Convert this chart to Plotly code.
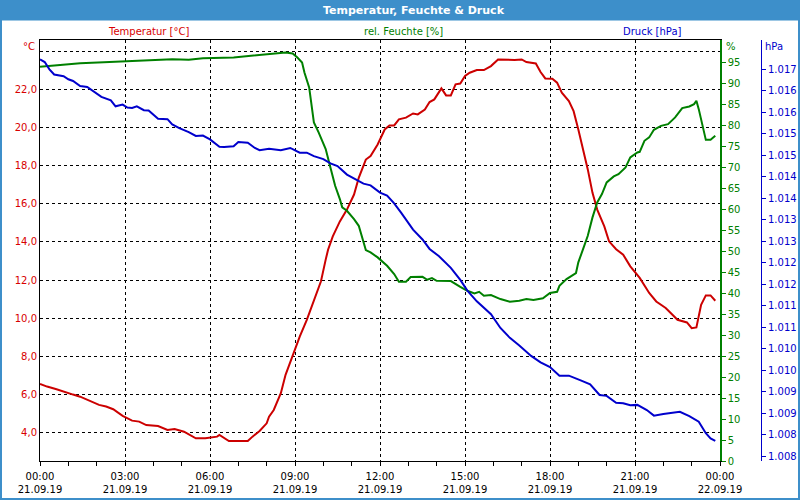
import pandas as pd
import plotly.graph_objects as go

# ---- data (minutes after 21.09.19 00:00, values) ----
temp_min = [0, 15, 35, 55, 70, 85, 105, 125, 140, 155, 175, 195, 210, 225, 250, 270, 285, 305,
            330, 350, 375, 380, 400, 440, 450, 465, 480, 485, 495, 510, 520, 535, 550, 565, 580,
            595, 605, 610, 620, 635, 650, 665, 675, 690, 700, 715, 730, 740, 750, 760, 775, 790,
            800, 815, 825, 835, 850, 860, 870, 880, 890, 900, 910, 925, 940, 955, 970, 990, 1005,
            1020, 1030, 1050, 1060, 1070, 1085, 1095, 1105, 1120, 1130, 1140, 1150, 1160, 1170,
            1180, 1195, 1205, 1220, 1235, 1250, 1270, 1290, 1305, 1325, 1350, 1370, 1380, 1390,
            1400, 1410, 1420, 1430]
temp_val = [6.54, 6.40, 6.26, 6.08, 5.98, 5.87, 5.66, 5.44, 5.35, 5.21, 4.86, 4.61, 4.56, 4.38,
            4.33, 4.12, 4.17, 4.03, 3.68, 3.68, 3.77, 3.86, 3.54, 3.54, 3.77, 4.07, 4.47, 4.82,
            5.17, 6.05, 7.02, 8.07, 9.03, 9.91, 10.96, 11.93, 13.07, 13.59, 14.29, 15.08, 15.70,
            16.49, 17.37, 18.33, 18.51, 19.12, 19.91, 20.12, 20.12, 20.44, 20.53, 20.75, 20.70,
            20.96, 21.35, 21.49, 22.07, 21.70, 21.70, 22.28, 22.32, 22.72, 22.89, 23.03, 23.03,
            23.24, 23.59, 23.56, 23.56, 23.59, 23.45, 23.38, 22.93, 22.59, 22.58, 22.37, 21.84,
            21.40, 20.87, 19.91, 18.86, 17.81, 16.58, 15.70, 14.82, 14.03, 13.62, 13.33, 12.72,
            12.11, 11.32, 10.87, 10.53, 9.91, 9.77, 9.47, 9.51, 10.70, 11.19, 11.19, 10.91]

hum_min = [0, 40, 85, 135, 185, 235, 280, 315, 345, 410, 445, 465, 485, 510, 520, 535, 545, 555,
           560, 570, 575, 580, 590, 605, 615, 625, 635, 640, 650, 665, 675, 680, 690, 700, 715,
           735, 750, 760, 775, 785, 810, 820, 830, 840, 870, 890, 905, 920, 930, 940, 955, 975,
           995, 1015, 1030, 1045, 1065, 1080, 1095, 1100, 1115, 1135, 1140, 1150, 1160, 1170,
           1180, 1190, 1200, 1215, 1225, 1240, 1250, 1265, 1270, 1280, 1290, 1300, 1315, 1330,
           1345, 1360, 1375, 1385, 1390, 1395, 1410, 1420, 1430]
hum_val = [93.95, 94.35, 94.83, 95.07, 95.31, 95.54, 95.78, 95.62, 96.02, 96.19, 96.57, 96.73,
           96.97, 97.28, 97.38, 97.14, 96.19, 95.0, 92.61, 89.04, 84.66, 80.70, 78.32, 74.34,
           69.98, 65.59, 62.43, 60.45, 59.64, 57.66, 56.06, 54.09, 50.27, 49.73, 48.53, 46.53,
           44.56, 42.72, 42.72, 43.84, 43.91, 43.20, 43.60, 42.96, 42.89, 41.53, 40.58, 39.96,
           40.34, 39.39, 39.55, 38.60, 37.95, 38.19, 38.60, 38.36, 38.77, 40.03, 40.34, 41.77,
           43.36, 44.79, 47.34, 50.51, 53.68, 58.07, 61.64, 63.62, 66.40, 67.83, 68.38, 69.98,
           72.36, 73.55, 73.70, 76.32, 77.13, 78.94, 79.89, 80.30, 81.89, 84.11, 84.51, 85.06,
           85.85, 83.87, 76.55, 76.55, 77.51]

pres_min = [0, 10, 20, 30, 50, 60, 70, 85, 100, 115, 130, 150, 160, 175, 185, 195, 205, 220, 230,
            250, 270, 280, 295, 315, 330, 345, 360, 380, 390, 410, 420, 440, 455, 465, 485, 510,
            530, 550, 565, 580, 600, 615, 630, 650, 670, 685, 700, 720, 735, 750, 765, 775, 790,
            810, 825, 845, 870, 890, 905, 925, 955, 975, 995, 1015, 1040, 1060, 1080, 1100, 1120,
            1145, 1165, 1185, 1200, 1220, 1235, 1250, 1265, 1285, 1300, 1320, 1340, 1355, 1375,
            1395, 1410, 1420, 1430]
pres_val = [1016.98, 1016.92, 1016.75, 1016.63, 1016.59, 1016.52, 1016.48, 1016.36, 1016.34,
            1016.22, 1016.11, 1016.03, 1015.89, 1015.93, 1015.86, 1015.85, 1015.89, 1015.80,
            1015.79, 1015.60, 1015.59, 1015.47, 1015.38, 1015.29, 1015.20, 1015.21, 1015.12,
            1014.95, 1014.94, 1014.96, 1015.06, 1015.04, 1014.92, 1014.87, 1014.90, 1014.87,
            1014.92, 1014.81, 1014.81, 1014.73, 1014.66, 1014.56, 1014.50, 1014.30, 1014.19,
            1014.09, 1014.05, 1013.88, 1013.81, 1013.63, 1013.41, 1013.25, 1013.02, 1012.79,
            1012.57, 1012.40, 1012.13, 1011.85, 1011.60, 1011.35, 1011.05, 1010.73, 1010.50,
            1010.32, 1010.08, 1009.93, 1009.82, 1009.62, 1009.62, 1009.51, 1009.42, 1009.17,
            1009.15, 1008.99, 1008.98, 1008.93, 1008.94, 1008.82, 1008.69, 1008.73, 1008.76,
            1008.78, 1008.68, 1008.55, 1008.28, 1008.16, 1008.10]

x_tick_hours = [0, 3, 6, 9, 12, 15, 18, 21, 24]
x_tick_text = ["00:00<br>21.09.19", "03:00<br>21.09.19", "06:00<br>21.09.19", "09:00<br>21.09.19",
               "12:00<br>21.09.19", "15:00<br>21.09.19", "18:00<br>21.09.19", "21:00<br>21.09.19",
               "00:00<br>22.09.19"]
temp_ticks = [4, 6, 8, 10, 12, 14, 16, 18, 20, 22, 24]
temp_tick_text = ["4,0", "6,0", "8,0", "10,0", "12,0", "14,0", "16,0", "18,0", "20,0", "22,0", ""]
hum_ticks = list(range(0, 100, 5))
pres_ticks = [1016.75, 1016.25, 1015.75, 1015.25, 1014.75, 1014.25, 1013.75, 1013.25, 1012.75,
              1012.25, 1011.75, 1011.25, 1010.75, 1010.25, 1009.75, 1009.25, 1008.75, 1008.25,
              1007.75]
pres_tick_text = ["1.017", "1.016", "1.016", "1.015", "1.015", "1.014", "1.014", "1.013", "1.013",
                  "1.012", "1.012", "1.011", "1.011", "1.010", "1.010", "1.009", "1.009", "1.008",
                  "1.008"]

base = pd.Timestamp("2019-09-21 00:00")
def to_time(mins):
    return [base + pd.Timedelta(minutes=m) for m in mins]

RED = "#cc0000"
RED_T = "#d80000"
GREEN = "#008000"
BLUE = "#0000cc"
BAR = "#3d8fca"
FONT = "DejaVu Sans"

fig = go.Figure()
fig.add_trace(go.Scatter(x=to_time(temp_min), y=temp_val, mode="lines",
                         line=dict(color=RED, width=2), yaxis="y", showlegend=False))
fig.add_trace(go.Scatter(x=to_time(hum_min), y=hum_val, mode="lines",
                         line=dict(color=GREEN, width=2), yaxis="y2", showlegend=False))
fig.add_trace(go.Scatter(x=to_time(pres_min), y=pres_val, mode="lines",
                         line=dict(color=BLUE, width=2), yaxis="y3", showlegend=False))

L, R, T, B = 40, 30, 40, 39
PW = 800 - L - R
PH = 500 - T - B
def px(x):
    return (x - L) / PW
def py(y):
    return (500 - B - y) / PH

grid = dict(showgrid=True, gridcolor="black", gridwidth=1, griddash="3px,3px")

fig.update_layout(
    width=800, height=500,
    margin=dict(l=L, r=R, t=T, b=B, autoexpand=False),
    paper_bgcolor="white", plot_bgcolor="white",
    font=dict(family=FONT, size=10, color="black"),
    xaxis=dict(
        type="date", domain=[0, px(720)], automargin=False,
        range=[base, base + pd.Timedelta(hours=24)],
        tickvals=[base + pd.Timedelta(hours=h) for h in x_tick_hours],
        ticktext=x_tick_text,
        ticks="outside", ticklen=4, tickcolor="black", ticklabelstandoff=2,
        minor=dict(ticks="outside", ticklen=4, tickcolor="black", dtick=3600000, showgrid=False),
        showline=True, linecolor="black", linewidth=1, mirror=True,
        tickfont=dict(family=FONT, size=10, color="black"),
        zeroline=False, **grid,
    ),
    yaxis=dict(
        range=[2.49, 24.61], tickvals=temp_ticks, ticktext=temp_tick_text, automargin=False,
        showline=True, linecolor="black", linewidth=1, ticks="",
        tickfont=dict(family=FONT, size=10, color=RED_T),
        zeroline=False, **grid,
    ),
    yaxis2=dict(
        range=[0, 100.35], overlaying="y", side="right", anchor="x", automargin=False,
        tickvals=hum_ticks, showgrid=False, zeroline=False,
        showline=True, linecolor=GREEN, linewidth=1.5,
        ticks="outside", ticklen=4, tickcolor=GREEN,
        tickfont=dict(family=FONT, size=10, color=GREEN),
    ),
    yaxis3=dict(
        range=[1007.634, 1017.433], overlaying="y", side="right", anchor="free", automargin=False,
        position=px(761), tickvals=pres_ticks, ticktext=pres_tick_text,
        showgrid=False, zeroline=False,
        showline=True, linecolor=BLUE, linewidth=1,
        ticks="outside", ticklen=4, tickcolor=BLUE,
        tickfont=dict(family=FONT, size=10, color=BLUE),
    ),
    shapes=[
        dict(type="rect", xref="paper", yref="paper", x0=px(0), x1=px(800), y0=py(20.5), y1=py(0),
             fillcolor=BAR, line=dict(width=0), layer="above"),
        dict(type="rect", xref="paper", yref="paper", x0=px(1), x1=px(799), y0=py(499), y1=py(1),
             fillcolor="rgba(0,0,0,0)", line=dict(color=BAR, width=2), layer="above"),
    ],
    annotations=[
        dict(text="<b>Temperatur, Feuchte & Druck</b>", xref="paper", yref="paper",
             x=px(414), y=py(10.5), xanchor="center", yanchor="middle", showarrow=False,
             font=dict(family=FONT, size=11, color="white")),
        dict(text="Temperatur [°C]", xref="paper", yref="paper", x=px(148), y=py(32),
             xanchor="center", yanchor="middle", showarrow=False,
             font=dict(family=FONT, size=10, color=RED_T)),
        dict(text="rel. Feuchte [%]", xref="paper", yref="paper", x=px(403), y=py(32),
             xanchor="center", yanchor="middle", showarrow=False,
             font=dict(family=FONT, size=10, color=GREEN)),
        dict(text="Druck [hPa]", xref="paper", yref="paper", x=px(652), y=py(32),
             xanchor="center", yanchor="middle", showarrow=False,
             font=dict(family=FONT, size=10, color=BLUE)),
        dict(text="°C", xref="paper", yref="paper", x=px(37), y=py(46.5),
             xanchor="right", yanchor="middle", showarrow=False,
             font=dict(family=FONT, size=10, color=RED_T)),
        dict(text="%", xref="paper", yref="paper", x=px(724), y=py(46.5),
             xanchor="left", yanchor="middle", showarrow=False,
             font=dict(family=FONT, size=10, color=GREEN)),
        dict(text="hPa", xref="paper", yref="paper", x=px(763), y=py(46.5),
             xanchor="left", yanchor="middle", showarrow=False,
             font=dict(family=FONT, size=10, color=BLUE)),
    ],
)

fig.write_html("out.html")
